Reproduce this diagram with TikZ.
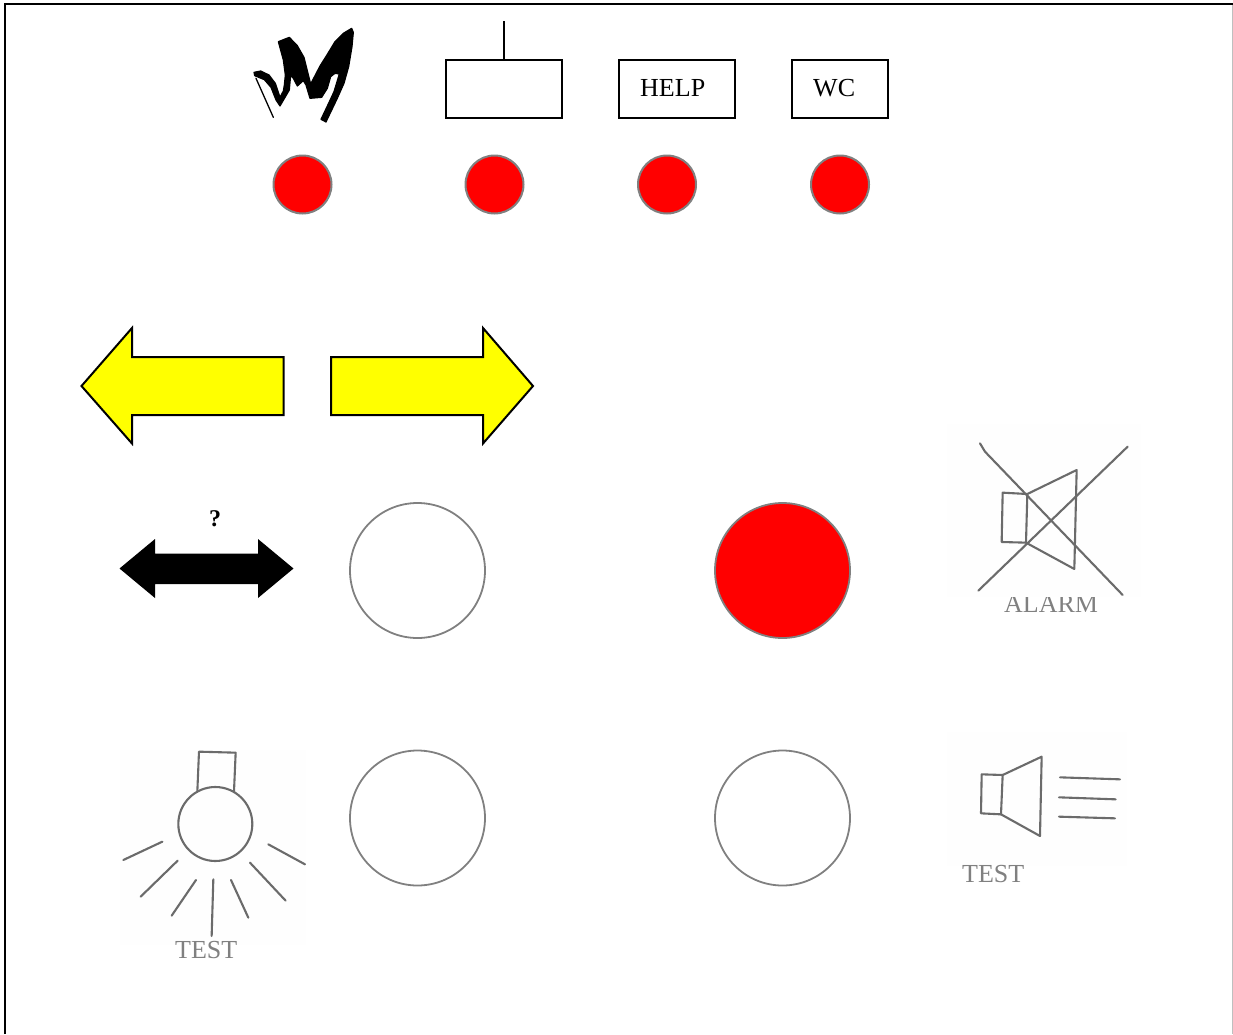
\documentclass[tikz,border=0pt]{standalone}
\usepackage{fontspec}
\setmainfont{Liberation Serif}
\definecolor{signyellow}{RGB}{255,255,0}
\definecolor{signred}{RGB}{255,0,0}
\definecolor{scanwhite}{RGB}{254,254,254}

\begin{document}
\begin{tikzpicture}[
        x=1pt, y=-1pt,
        label text/.style={font=\fontsize{26}{30}\selectfont, inner sep=0pt, anchor=base west},
        gray text/.style={label text, text=black!50},
        word box/.style={draw, line width=2pt, inner sep=0pt, outer sep=0pt, minimum height=58pt},
        small lamp/.style={draw=black!50, fill=signred, line width=2pt, circle, inner sep=0pt, outer sep=0pt, minimum size=58pt},
        big lamp/.style={draw=black!50, line width=1.8pt, circle, inner sep=0pt, outer sep=0pt, minimum size=135pt},
        yellow arrow/.style={draw, fill=signyellow, line width=2pt, line join=miter},
        pencil/.style={draw=black!58, line width=2.1pt, line join=round, line cap=round}
    ]
    \useasboundingbox (0,0) rectangle (1233,1034);

    % frame, open at the bottom
    \draw[black!25, line width=1pt] (1232.5,3) -- (1232.5,1034);
    \draw[line width=2pt] (5,1034) -- (5,3.5) -- (1233,3.5);

    % top row
    \begin{scope}[shift={(240,10)}, x=0.3333pt, y=-0.3333pt]
        \draw[line width=1.3pt, line cap=round] (100,322) -- (48,205);
        \filldraw[line width=1.2pt, line join=round] (42,187) -- (62,183) -- (87,195) -- (106,220)
            -- (120,262) -- (130,243) -- (133,225) -- (136,195) -- (130,150) -- (115,95)
            -- (148,82) -- (172,107) -- (192,142) -- (202,182) -- (212,222) -- (240,168)
            -- (262,133) -- (285,95) -- (310,70) -- (335,55) -- (340,67) -- (336,110)
            -- (326,170) -- (312,220) -- (292,265) -- (258,336) -- (243,328) -- (262,288)
            -- (282,245) -- (298,192) -- (285,190) -- (272,200) -- (262,235) -- (245,262)
            -- (210,265) -- (198,225) -- (190,212) -- (172,228) -- (160,205) -- (152,195)
            -- (148,240) -- (120,288) -- (108,270) -- (93,232) -- (73,209) -- (44,197) -- cycle;
    \end{scope}
    \node[word box, minimum width=116pt] (aerialbox) at (504,88.5) {};
    \coordinate (aerialtop) at (504,21);
    \draw[line width=1.7pt] (aerialbox.north) -- (aerialtop);
    \node[word box, minimum width=116pt] (helpbox) at (677,88.5) {};
    \node[word box, minimum width=96pt] (wcbox) at (840,88.5) {};
    \node[label text] (helptext) at (640,96) {HELP};
    \node[label text] (wctext) at (813,96) {WC};

    \foreach \name/\xpos in {signlamp/302.5, aeriallamp/494.5, helplamp/667, wclamp/840} {
        \node[small lamp] (\name) at (\xpos,184.5) {};
    }

    % direction arrows
    \draw[yellow arrow] (81.5,386) -- (132,328) -- (132,357) -- (283.5,357) -- (283.5,415)
        -- (132,415) -- (132,443.5) -- cycle;
    \draw[yellow arrow] (533,386) -- (483,328) -- (483,357) -- (331,357) -- (331,415)
        -- (483,415) -- (483,443.5) -- cycle;
    \fill (119.5,568.5) -- (155,539) -- (155,553.5) -- (258,553.5) -- (258,539) -- (293.5,568.5)
        -- (258,598) -- (258,584) -- (155,584) -- (155,598) -- cycle;
    \node[font=\fontsize{24}{28}\selectfont\bfseries, inner sep=0pt, anchor=base] (question) at (215,526) {?};

    % big lamps
    \node[big lamp] (leftupper) at (417.5,570.5) {};
    \node[big lamp, fill=signred] (alarmlamp) at (782.5,570.5) {};
    \node[big lamp] (leftlower) at (417.5,818) {};
    \node[big lamp] (soundlamp) at (782.5,818) {};

    % crossed out speaker
    \node[gray text] (alarmtext) at (1004,612) {ALARM};
    \fill[scanwhite] (947,424) rectangle (1141,597);
    \begin{scope}[shift={(940,420)}, x=0.3333pt, y=-0.3333pt]
        \draw[pencil] (120,70) -- (135,95) -- (548,525);
        \draw[pencil] (563,80) -- (115,512);
        \draw[pencil] (188,218) -- (262,222) -- (258,368) -- (185,366) -- cycle;
        \draw[pencil] (262,222) -- (410,150) -- (403,447) -- (258,368);
    \end{scope}

    % light
    \fill[scanwhite] (120,750) rectangle (306,945);
    \begin{scope}[shift={(110,740)}, x=0.3333pt, y=-0.3333pt]
        \draw[pencil] (316,252) circle (37pt);
        \draw[pencil] (262,155) -- (267,35) -- (377,38) -- (372,155);
        \draw[pencil] (40,360) -- (157,305);
        \draw[pencil] (92,470) -- (203,362);
        \draw[pencil] (185,527) -- (258,420);
        \draw[pencil] (305,588) -- (310,418);
        \draw[pencil] (415,533) -- (363,420);
        \draw[pencil] (527,482) -- (420,368);
        \draw[pencil] (585,373) -- (475,313);
    \end{scope}
    \node[gray text] (lighttext) at (175,958) {TEST};

    % speaker
    \fill[scanwhite] (947,732) rectangle (1127,866);
    \begin{scope}[shift={(940,730)}, x=0.3333pt, y=-0.3333pt]
        \draw[pencil] (125,133) -- (188,135) -- (183,253) -- (123,250) -- cycle;
        \draw[pencil] (188,135) -- (305,80) -- (300,318) -- (183,253);
        \draw[pencil] (360,142) -- (540,148);
        \draw[pencil] (357,202) -- (527,208);
        \draw[pencil] (357,260) -- (525,265);
    \end{scope}
    \node[gray text] (speakertext) at (962,882) {TEST};
\end{tikzpicture}
\end{document}
